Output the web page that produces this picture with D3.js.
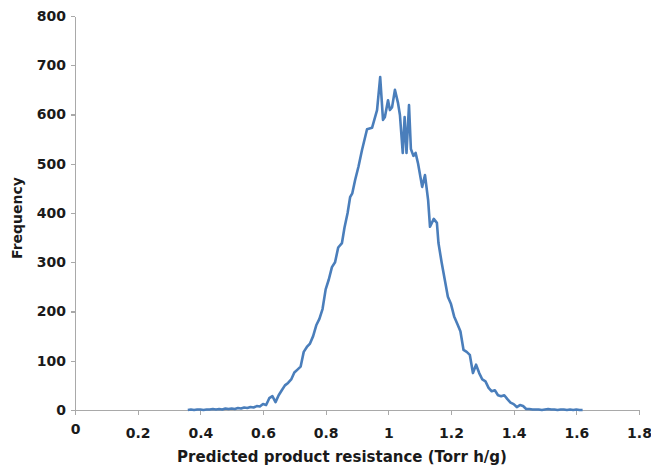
<!DOCTYPE html>
<html>
<head>
	<title>Predicted product resistance histogram</title>
	<script src="https://d3js.org/d3.v7.min.js"></script>
	<style>
		body { margin: 0; background: #fff; }
		.axis path, .axis line { fill: none; stroke: #a9a9a9; stroke-width: 1.3; shape-rendering: crispEdges; }
		.axis text { font-family: "DejaVu Sans", sans-serif; font-weight: bold; font-size: 14px; fill: #1a1a1a; }
		.title { font-family: "DejaVu Sans", sans-serif; font-weight: bold; fill: #1a1a1a; }
	</style>
</head>
<body>
	<div id="plot"></div>
	<script type="text/javascript">
		var w = 651, h = 469;
		var padLeft = 75, padRight = 639, padTop = 16, padBottom = 410;

		// bin centre (Torr h/g) and frequency
		var resistance = [
			0.36, 0.37, 0.38, 0.39, 0.40, 0.41, 0.42, 0.43, 0.44, 0.45,
			0.46, 0.47, 0.48, 0.49, 0.50, 0.51, 0.52, 0.53, 0.54, 0.55,
			0.56, 0.57, 0.58, 0.59, 0.60, 0.61, 0.62, 0.63, 0.64, 0.65,
			0.66, 0.67, 0.68, 0.69, 0.70, 0.71, 0.72, 0.73, 0.74, 0.75,
			0.76, 0.77, 0.78, 0.79, 0.80, 0.81, 0.82, 0.83, 0.84, 0.852,
			0.86, 0.87, 0.878, 0.885, 0.894, 0.905, 0.916, 0.932, 0.948, 0.964,
			0.974, 0.983, 0.989, 0.999, 1.005, 1.012, 1.021, 1.031, 1.037, 1.046,
			1.052, 1.058, 1.066, 1.072, 1.080, 1.087, 1.095, 1.108, 1.117, 1.127,
			1.133, 1.145, 1.155, 1.160, 1.17, 1.18, 1.19, 1.20, 1.21, 1.22,
			1.23, 1.24, 1.25, 1.26, 1.27, 1.28, 1.29, 1.30, 1.31, 1.32,
			1.33, 1.34, 1.35, 1.36, 1.37, 1.38, 1.39, 1.40, 1.41, 1.42,
			1.43, 1.44, 1.45, 1.46, 1.47, 1.48, 1.49, 1.50, 1.51, 1.52,
			1.53, 1.54, 1.55, 1.56, 1.57, 1.58, 1.59, 1.60, 1.61, 1.62
		];
		var frequency = [
			0, 1, 0, 1, 1, 0, 1, 1, 2, 1,
			2, 1, 3, 2, 3, 2, 4, 3, 5, 4,
			6, 5, 8, 7, 12, 10, 24, 28, 16, 30,
			40, 50, 55, 62, 76, 82, 88, 118, 128, 135,
			150, 172, 185, 205, 245, 265, 290, 300, 330, 339,
			370, 400, 432, 440, 467, 495, 528, 570, 573, 609,
			676, 589, 595, 629, 609, 615, 650, 623, 599, 522,
			595, 522, 619, 530, 516, 522, 500, 453, 477, 426,
			372, 388, 380, 339, 300, 265, 230, 215, 190, 175,
			160, 122, 118, 112, 75, 92, 75, 62, 58, 45,
			38, 40, 30, 28, 30, 22, 15, 12, 6, 10,
			8, 2, 2, 1, 1, 1, 0, 1, 2, 1,
			1, 0, 1, 1, 0, 1, 0, 1, 0, 0
		];
		var xTicks = [0, 0.2, 0.4, 0.6, 0.8, 1, 1.2, 1.4, 1.6, 1.8];
		var yTicks = [0, 100, 200, 300, 400, 500, 600, 700, 800];

		var svg = d3.select("#plot")
			.append("svg")
			.attr("width", w)
			.attr("height", h);

		var xScale = d3.scaleLinear().domain([0, 1.8]).range([padLeft, padRight]);
		var yScale = d3.scaleLinear().domain([0, 800]).range([padBottom, padTop]);

		// x axis
		var xAxis = d3.axisBottom(xScale)
			.tickValues(xTicks)
			.tickSize(5)
			.tickSizeOuter(0)
			.tickPadding(13)
			.tickFormat(function(d) { return d3.format("")(+d.toFixed(1)); });
		var gx = svg.append("g")
			.attr("class", "axis")
			.attr("transform", "translate(0," + padBottom + ")")
			.call(xAxis);
		// Excel draws the first label a little higher
		gx.selectAll(".tick text").filter(function(d) { return d === 0; }).attr("dy", "0.4em");

		// y axis
		var yAxis = d3.axisLeft(yScale)
			.tickValues(yTicks)
			.tickSize(4)
			.tickSizeOuter(0)
			.tickPadding(5);
		svg.append("g")
			.attr("class", "axis")
			.attr("transform", "translate(" + padLeft + ",0)")
			.call(yAxis);

		// the curve
		var line = d3.line()
			.x(function(d, i) { return xScale(resistance[i]); })
			.y(function(d) { return yScale(d); });
		svg.append("path")
			.datum(frequency)
			.attr("d", line)
			.attr("fill", "none")
			.attr("stroke", "#4a7ebb")
			.attr("stroke-width", 2.6)
			.attr("stroke-linejoin", "round");

		// titles
		svg.append("text")
			.attr("class", "title")
			.attr("x", 342)
			.attr("y", 462)
			.attr("text-anchor", "middle")
			.style("font-size", "15px")
			.text("Predicted product resistance (Torr h/g)");

		svg.append("text")
			.attr("class", "title")
			.attr("transform", "translate(22,218) rotate(-90)")
			.attr("text-anchor", "middle")
			.style("font-size", "14px")
			.text("Frequency");
	</script>
</body>
</html>
